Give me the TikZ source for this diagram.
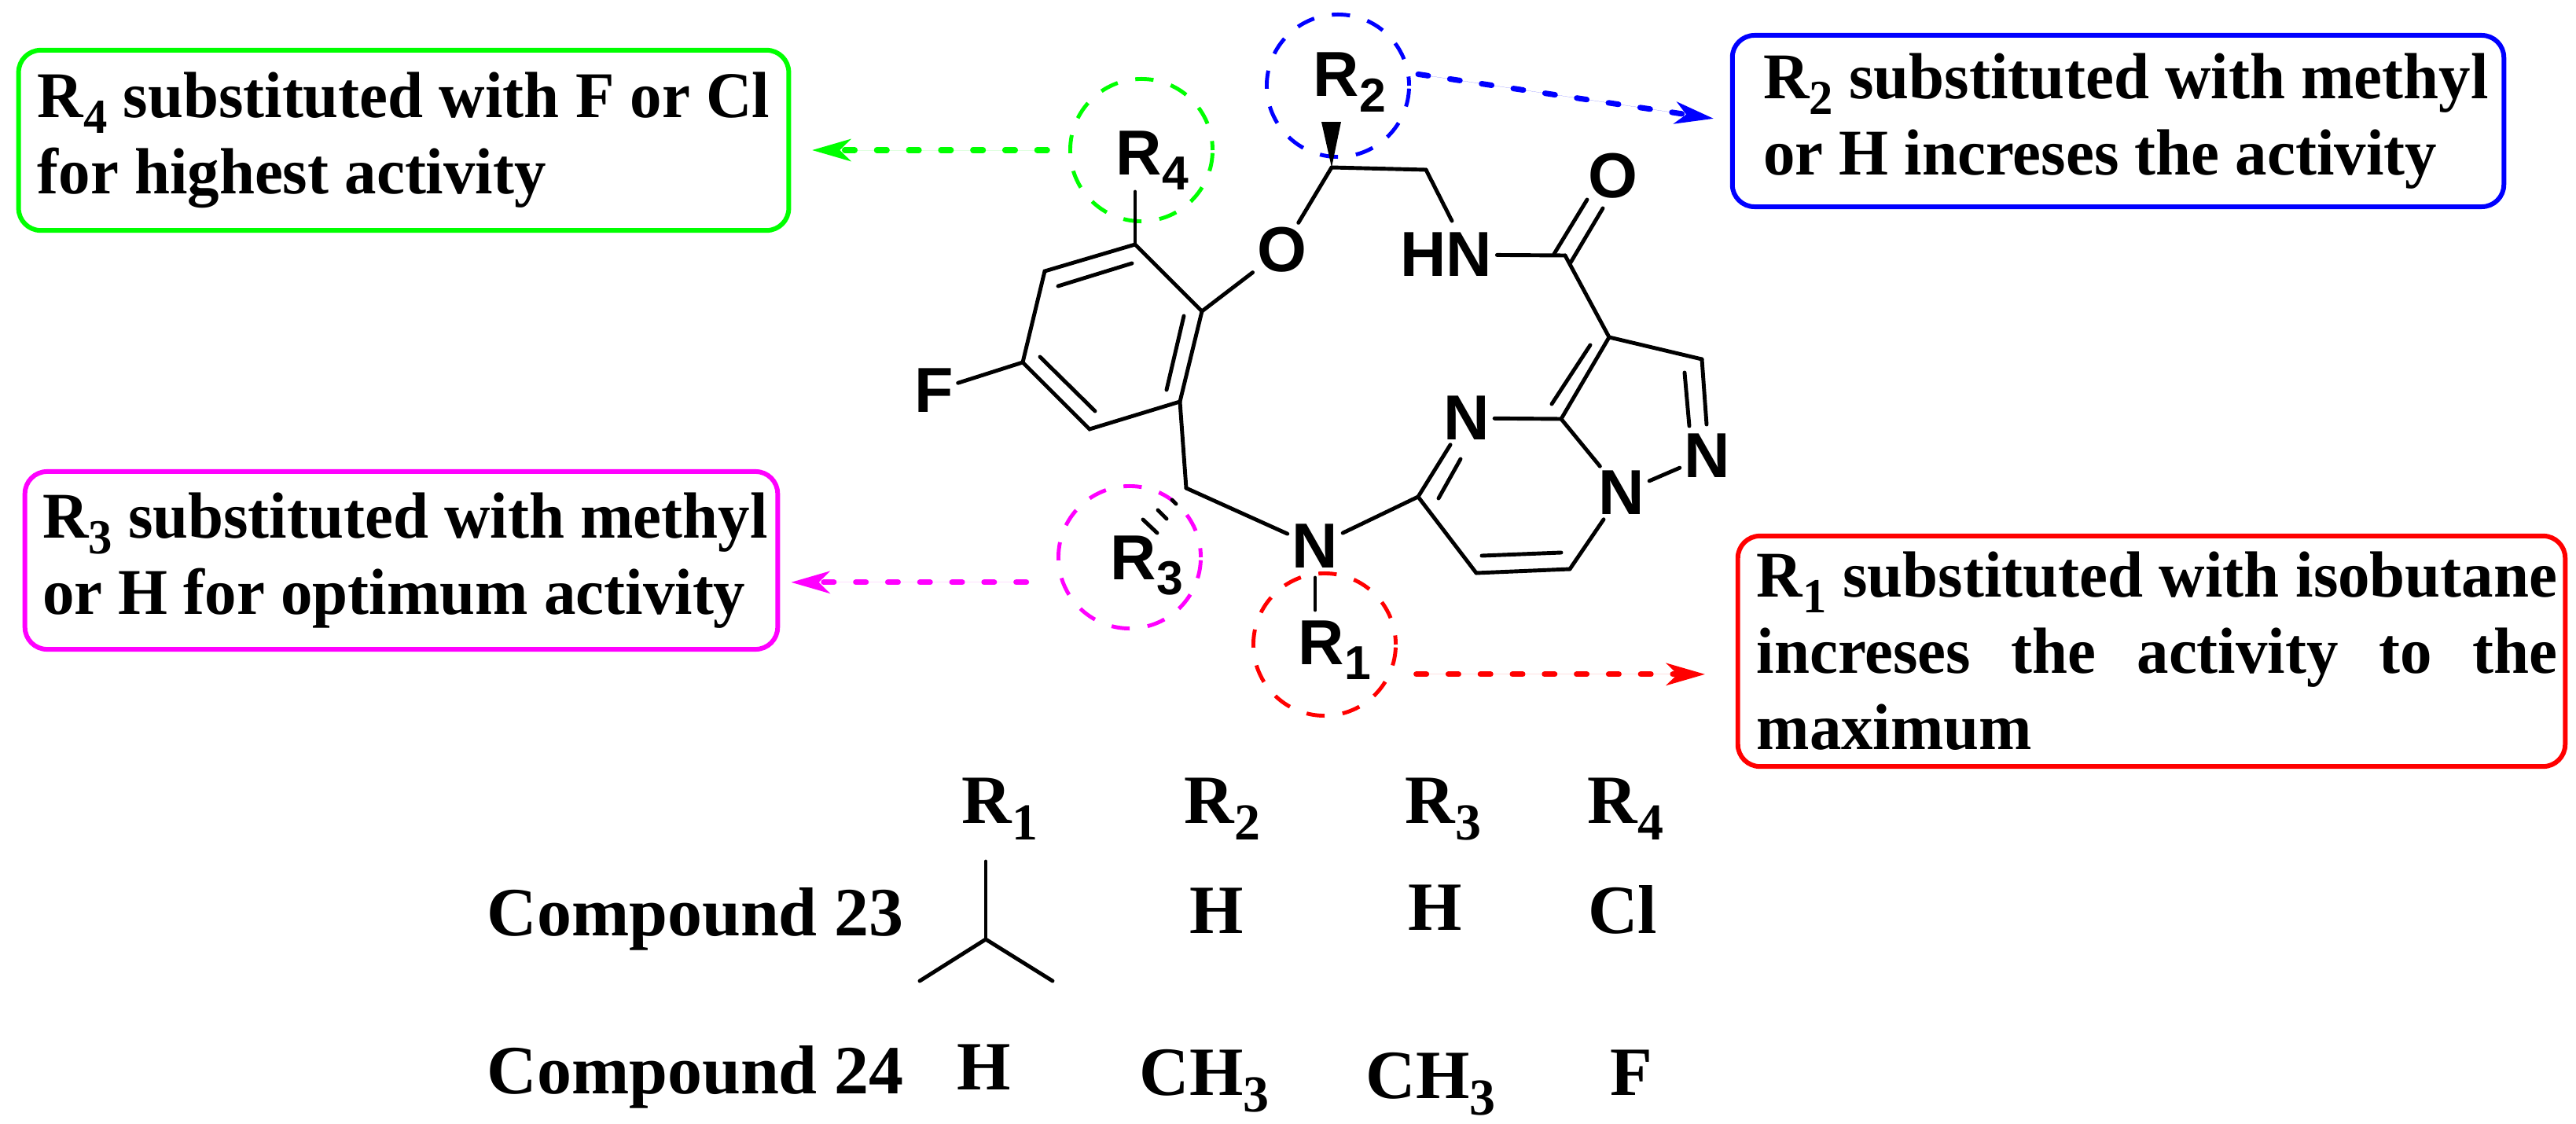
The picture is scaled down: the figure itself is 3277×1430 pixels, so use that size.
\documentclass[tikz,border=0pt]{standalone}
\usepackage{fontspec}
\setmainfont{Liberation Serif}
\newfontfamily\atomfamily{Liberation Sans}
\newfontfamily\notefamily[FakeStretch=0.975]{Liberation Serif}
\usepackage{tikz}
\usetikzlibrary{arrows.meta, positioning, shapes.geometric}
\definecolor{RedOne}{HTML}{FF0000}
\definecolor{BlueTwo}{HTML}{0000FF}
\definecolor{PinkThree}{HTML}{FF00FF}
\definecolor{GreenFour}{HTML}{00FF00}
\newcommand{\lowsub}[1]{\raisebox{-0.24em}{\scalebox{0.75}{#1}}}

\begin{document}
\begin{tikzpicture}[
  x=0.01cm, y=-0.01cm,
  bond/.style={line width=1.4pt, line cap=round},
  atom/.style={font=\fontsize{23}{23}\selectfont\bfseries\atomfamily, inner sep=1.5pt},
  rgroup/.style={font=\fontsize{23}{23}\selectfont\bfseries\atomfamily, inner sep=0pt, anchor=base west},
  ring/.style={circle, draw, line width=1.4pt, inner sep=0pt, minimum size=51.5pt,
    dash pattern=on 6.6pt off 6.52pt, dash phase=3.3pt},
  note/.style={rectangle, draw, rounded corners=8pt, line width=1.7pt, fill=white, inner sep=0pt, align=left,
    font=\fontsize{23.6}{27.6}\selectfont\bfseries\notefamily},
  cell/.style={font=\fontsize{25}{27.6}\selectfont\bfseries, inner sep=0pt, anchor=base},
  pointer/.style={line width=2pt, dash pattern=on 3.7pt off 7.9pt, line cap=round,
    -{Stealth[length=14pt,width=8pt,inset=4pt]}}
]
\useasboundingbox (0,0) rectangle (3277,1430);

% dashed circles round the groups
\node[ring, draw=RedOne] (cR1) at (1685,820) {};
\node[ring, draw=BlueTwo] (cR2) at (1702,109) {};
\node[ring, draw=PinkThree] (cR3) at (1437,709) {};
\node[ring, draw=GreenFour] (cR4) at (1452,191) {};

% carbons
\coordinate (a1) at (1444,311);
\coordinate (a2) at (1329,345);
\coordinate (a3) at (1301,461);
\coordinate (a4) at (1386,546);
\coordinate (a5) at (1501,511);
\coordinate (a6) at (1529,396);
\coordinate (cs) at (1694,213);
\coordinate (ch2) at (1814,216);
\coordinate (co) at (1991,325);
\coordinate (c3a) at (2047,429);
\coordinate (c2) at (2165,457);
\coordinate (c7a) at (1986,533);
\coordinate (c5) at (1804,632);
\coordinate (c6) at (1878,729);
\coordinate (c7) at (1997,724);
\coordinate (ch) at (1509,621);
\coordinate (tR4) at (1444,244);

% hetero atoms
\node[atom] (oring) at (1631,318) {O};
\node[atom] (ocarb) at (2052,224) {O};
\node[atom] (hn) at (1840,324) {HN};
\node[atom] (f) at (1188,497) {F};
\node[atom] (npyr) at (1866,532) {N};
\node[atom] (npz) at (2172,580) {N};
\node[atom] (nbr) at (2063,627) {N};
\node[atom] (nam) at (1673,695) {N};
\coordinate (hntop) at (1847,281);

% groups
\node[rgroup] (lR1) at (1651,845) {R\lowsub{1}};
\node[rgroup] (lR2) at (1670,123) {R\lowsub{2}};
\node[rgroup] (lR3) at (1412,737) {R\lowsub{3}};
\node[rgroup] (lR4) at (1419,222) {R\lowsub{4}};
\coordinate (tR1a) at (1673,735);
\coordinate (tR1b) at (1673,776);

% inner lines of double bonds
\coordinate (i1a) at (1440,335);
\coordinate (i1b) at (1346,364);
\coordinate (i2a) at (1323,454);
\coordinate (i2b) at (1393,523);
\coordinate (i3a) at (1506,402);
\coordinate (i3b) at (1484,496);
\coordinate (i4a) at (2023,439);
\coordinate (i4b) at (1974,514);
\coordinate (i5a) at (2143,474);
\coordinate (i5b) at (2149,542);
\coordinate (i6a) at (1830,634);
\coordinate (i6b) at (1858,584);
\coordinate (i7a) at (1885,707);
\coordinate (i7b) at (1986,703);
\coordinate (o1a) at (1977,323);
\coordinate (o1b) at (2019,254);
\coordinate (o2a) at (1998,334);
\coordinate (o2b) at (2039,265);
\coordinate (o2c) at (2171,540);

% wedge and hashes
\coordinate (w1) at (1681,155);
\coordinate (w2) at (1706,155);
\coordinate (h1a) at (1491,636);
\coordinate (h1b) at (1496,641);
\coordinate (h2a) at (1473,649);
\coordinate (h2b) at (1484,660);
\coordinate (h3a) at (1454,661);
\coordinate (h3b) at (1472,678);

\draw[bond] (a1) -- (a2) -- (a3) -- (a4) -- (a5) -- (a6) -- cycle;
\draw[bond] (i1a) -- (i1b);
\draw[bond] (i2a) -- (i2b);
\draw[bond] (i3a) -- (i3b);
\draw[bond] (a1) -- (tR4);
\draw[bond] (a3) -- (f);
\draw[bond] (a6) -- (oring);
\draw[bond] (oring) -- (cs);
\draw[bond] (cs) -- (ch2);
\draw[bond] (ch2) -- (hntop);
\draw[bond] (hn) -- (co);
\draw[bond] (o1a) -- (o1b);
\draw[bond] (o2a) -- (o2b);
\draw[bond] (co) -- (c3a);
\draw[bond] (c3a) -- (c2);
\draw[bond] (c2) -- (o2c);
\draw[bond] (i5a) -- (i5b);
\draw[bond] (c3a) -- (c7a);
\draw[bond] (i4a) -- (i4b);
\draw[bond] (c7a) -- (npyr);
\draw[bond] (c7a) -- (nbr);
\draw[bond] (nbr) -- (npz);
\draw[bond] (nbr) -- (c7);
\draw[bond] (c7) -- (c6);
\draw[bond] (i7a) -- (i7b);
\draw[bond] (c6) -- (c5);
\draw[bond] (c5) -- (npyr);
\draw[bond] (i6a) -- (i6b);
\draw[bond] (c5) -- (nam);
\draw[bond] (ch) -- (nam);
\draw[bond] (a5) -- (ch);
\draw[bond] (tR1a) -- (tR1b);
\fill (cs) -- (w1) -- (w2) -- cycle;
\draw[bond] (h1a) -- (h1b);
\draw[bond] (h2a) -- (h2b);
\draw[bond] (h3a) -- (h3b);

% notes
\node[note, draw=GreenFour, minimum width=278.6pt, minimum height=65.2pt] (bR4) at (513.5,178.5)
  {R\lowsub{4} substituted with F or Cl\\for highest activity};
\node[note, draw=PinkThree, minimum width=272.3pt, minimum height=64.3pt] (bR3) at (510.5,713)
  {\hspace*{2.8pt}R\lowsub{3} substituted with methyl\\\hspace*{2.8pt}or H for optimum activity};
\node[note, draw=BlueTwo, minimum width=279.1pt, minimum height=62pt] (bR2) at (2694.5,154)
  {\hspace*{5.7pt}R\lowsub{2} substituted with methyl\\\hspace*{5.7pt}or H increses the activity};
\node[note, draw=RedOne, minimum width=299.3pt, minimum height=83.4pt] (bR1) at (2737,828.5)
  {\hspace*{4pt}\parbox{289.7pt}{R\lowsub{1} substituted with isobutane\linebreak increses the activity to the\linebreak maximum}};

% pointers
\draw[pointer, draw=GreenFour, fill=GreenFour, shorten <=7.6pt, shorten >=7.6pt] (cR4.west) -- (cR4.west -| bR4.east);
\draw[pointer, draw=PinkThree, fill=PinkThree, shorten <=12.5pt, shorten >=4pt] (cR3.200) -- (cR3.200 -| bR3.east);
\draw[pointer, draw=BlueTwo, fill=BlueTwo, shorten <=3pt, shorten >=6pt] (cR2.10) -- (bR2.west);
\draw[pointer, draw=RedOne, fill=RedOne, shorten <=9pt, shorten >=11pt] (cR1.-24) -- (cR1.-24 -| bR1.west);

% table
\node[cell, anchor=base west] (hR1) at (1223,1047) {R\lowsub{1}};
\node[cell, anchor=base west] (hR2) at (1506,1047) {R\lowsub{2}};
\node[cell, anchor=base west] (hR3) at (1787,1047) {R\lowsub{3}};
\node[cell, anchor=base west] (hR4) at (2019,1047) {R\lowsub{4}};
\node[cell, anchor=base west] (c23) at (619,1190) {Compound 23};
\node[cell, anchor=base west] (c24) at (619,1391) {Compound 24};
\coordinate (ib0) at (1254,1096);
\coordinate (ib1) at (1254,1195);
\coordinate (ib2) at (1170,1248);
\coordinate (ib3) at (1339,1248);
\draw[bond] (ib0) -- (ib1);
\draw[bond] (ib2) -- (ib1) -- (ib3);
\node[cell] (h232) at (1548,1187) {H};
\node[cell] (h233) at (1826,1183) {H};
\node[cell] (h234) at (2064,1187) {Cl};
\node[cell] (h241) at (1252,1386) {H};
\node[cell] (h242) at (1532,1393) {CH\lowsub{3}};
\node[cell] (h243) at (1820,1397) {CH\lowsub{3}};
\node[cell] (h244) at (2075,1393) {F};
\end{tikzpicture}
\end{document}
